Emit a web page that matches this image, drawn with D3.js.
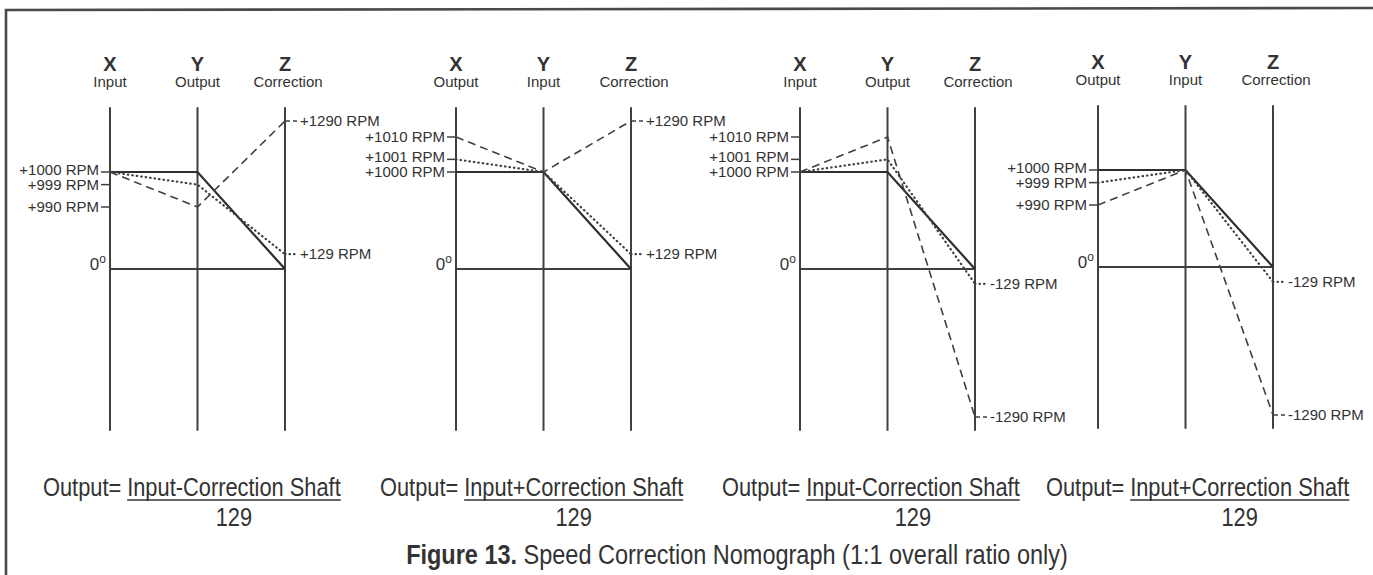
<!DOCTYPE html>
<html><head><meta charset="utf-8">
<script src="https://cdn.jsdelivr.net/npm/d3@7"></script>
<style>body{margin:0;background:#fff} svg{display:block}</style>
</head><body><svg id="c" width="1373" height="575"></svg>
<script>
// ---------- data ----------
const axisLetters = ["X", "Y", "Z"];
const axisRoles = [
  ["Input", "Output", "Correction"],
  ["Output", "Input", "Correction"],
  ["Input", "Output", "Correction"],
  ["Output", "Input", "Correction"]
];
// speeds on [X, Y, Z] for each line of each panel (RPM)
const solidSpeeds  = [[1000, 1000, 0], [1000, 1000, 0], [1000, 1000, 0], [1000, 1000, 0]];
const dashedSpeeds = [[1000, 990, 1290], [1010, 1000, 1290], [1000, 1010, -1290], [990, 1000, -1290]];
const dottedSpeeds = [[1000, 999, 129], [1001, 1000, 129], [1000, 1001, -129], [999, 1000, -129]];
// labelled ticks
const xTickSpeeds = [[1000, 999, 990], [1010, 1001, 1000], [1010, 1001, 1000], [1000, 999, 990]];
const zTickSpeeds = [[1290, 129], [1290, 129], [-129, -1290], [-129, -1290]];
const formulaNumerators = ["Input-Correction Shaft", "Input+Correction Shaft", "Input-Correction Shaft", "Input+Correction Shaft"];
const formulaLead = "Output=";
const formulaDenominator = "129";
const captionBold = "Figure 13.";
const captionRest = " Speed Correction Nomograph (1:1 overall ratio only)";

// ---------- layout ----------
const ink = "#333";
const lineInk = "#404040";
const font = "Liberation Sans, Arial, sans-serif";
const panelLeft = [110, 456, 800, 1098];
const panelDy = [0, 0, 0, -2];
const formulaLeft = [43, 380, 722, 1046];
const narrow = 0.84;
const svg = d3.select("#c");

const axisX = d3.scalePoint().domain(axisLetters).range([0, 175]);
const zScale = d3.scaleLinear().domain([-1290, 1290]).range([417, 121]);
const zExtent = [-1410, 1410];
const speedMain = d3.scaleLinear().domain([0, 1000]).range([zScale(0), 172]);
const speedDev = d3.scaleSymlog().constant(0.5).domain([-10, 10]).range([35, -35]);
const ySpeed = v => speedMain(1000) + speedDev(v - 1000);
const fmt = v => (v > 0 ? "+" : "") + v + " RPM";

// frame
svg.append("path").attr("d", "M6,575 L6,10 L1373,8")
  .attr("fill", "none").attr("stroke", "#4a4a4a").attr("stroke-width", 2.6);

const lineGen = d3.line().x(d => d[0]).y(d => d[1]);

panelLeft.forEach((px, i) => {
  const g = svg.append("g").attr("transform", `translate(${px},${panelDy[i]})`);
  const xs = axisLetters.map(a => axisX(a));

  // header
  axisLetters.forEach((a, j) => {
    g.append("text").attr("x", xs[j]).attr("y", 71).attr("text-anchor", "middle")
      .attr("font-family", font).attr("font-weight", "bold")
      .attr("font-size", 20).attr("fill", ink).text(a);
    g.append("text").attr("x", xs[j] + (j === 2 ? 3 : 0)).attr("y", 87).attr("text-anchor", "middle")
      .attr("font-family", font)
      .attr("font-size", 15).attr("fill", ink).text(axisRoles[i][j]);
  });

  // vertical axes
  xs.forEach(x => {
    g.append("line").attr("x1", x).attr("x2", x)
      .attr("y1", zScale(zExtent[1])).attr("y2", zScale(zExtent[0]))
      .attr("stroke", lineInk).attr("stroke-width", 2);
  });
  // zero line
  g.append("line").attr("x1", xs[0]).attr("x2", xs[2])
    .attr("y1", zScale(0)).attr("y2", zScale(0))
    .attr("stroke", lineInk).attr("stroke-width", 2);
  const zero = g.append("text").attr("x", xs[0] - 4).attr("y", zScale(0) + 1)
    .attr("text-anchor", "end").attr("font-family", font)
    .attr("font-size", 17).attr("fill", ink);
  zero.append("tspan").text("0");
  zero.append("tspan").attr("font-size", 12).attr("dy", -7).text("o");

  const pts = s => [[xs[0], ySpeed(s[0])], [xs[1], ySpeed(s[1])], [xs[2], zScale(s[2])]];

  g.append("path").attr("d", lineGen(pts(solidSpeeds[i]))).attr("fill", "none")
    .attr("stroke", "#2e2e2e").attr("stroke-width", 2.2);
  g.append("path").attr("d", lineGen(pts(dashedSpeeds[i]))).attr("fill", "none")
    .attr("stroke", lineInk).attr("stroke-width", 1.6).attr("stroke-dasharray", "8,5");
  g.append("path").attr("d", lineGen(pts(dottedSpeeds[i]))).attr("fill", "none")
    .attr("stroke", lineInk).attr("stroke-width", 2.2).attr("stroke-linecap", "round")
    .attr("stroke-dasharray", "0.5,4");

  // left tick labels with simple collision avoidance
  const items = xTickSpeeds[i].map(v => ({ v, y: ySpeed(v), ty: ySpeed(v) })).sort((a, b) => b.y - a.y);
  for (let k = 1; k < items.length; k++) {
    if (items[k - 1].ty - items[k].ty < 15) items[k].ty = items[k - 1].ty - 15;
  }
  items.forEach(d => {
    g.append("line").attr("x1", xs[0] - 9).attr("x2", xs[0]).attr("y1", d.y).attr("y2", d.y)
      .attr("stroke", lineInk).attr("stroke-width", 1.5);
    g.append("text").attr("x", xs[0] - 11).attr("y", d.ty).attr("dy", "0.35em")
      .attr("text-anchor", "end").attr("font-family", font)
      .attr("font-size", 15).attr("fill", ink).text(fmt(d.v));
  });

  // right tick labels
  zTickSpeeds[i].forEach(v => {
    const y = zScale(v);
    const big = Math.abs(v) > 500;
    g.append("line").attr("x1", xs[2]).attr("x2", xs[2] + 12).attr("y1", y).attr("y2", y)
      .attr("stroke", lineInk).attr("stroke-width", big ? 1.5 : 2.2)
      .attr("stroke-linecap", big ? "butt" : "round")
      .attr("stroke-dasharray", big ? "5,3" : "0.5,4");
    g.append("text").attr("x", xs[2] + 15).attr("y", y).attr("dy", "0.35em")
      .attr("font-family", font)
      .attr("font-size", 15).attr("fill", ink).text(fmt(v));
  });
});

// formulas (condensed type)
formulaLeft.forEach((fx, i) => {
  const g = svg.append("g").attr("transform", `translate(${fx},0) scale(${narrow},1)`);
  const lead = g.append("text").attr("x", 0).attr("y", 496)
    .attr("font-family", font).attr("font-size", 26).attr("fill", ink).text(formulaLead);
  const lw = lead.node().getComputedTextLength();
  const nx = lw + 7;
  const num = g.append("text").attr("x", nx).attr("y", 496)
    .attr("font-family", font).attr("font-size", 26).attr("fill", ink).text(formulaNumerators[i]);
  const nw = num.node().getComputedTextLength();
  g.append("line").attr("x1", nx).attr("x2", nx + nw).attr("y1", 500).attr("y2", 500)
    .attr("stroke", ink).attr("stroke-width", 1.6);
  g.append("text").attr("x", nx + nw / 2).attr("y", 526).attr("text-anchor", "middle")
    .attr("font-family", font).attr("font-size", 26).attr("fill", ink).text(formulaDenominator);
});

// caption (condensed type)
const capG = svg.append("g").attr("transform", `translate(737,0) scale(0.87,1)`);
const cap = capG.append("text").attr("x", 0).attr("y", 564).attr("text-anchor", "middle")
  .attr("font-family", font).attr("font-size", 27).attr("fill", ink);
cap.append("tspan").attr("font-weight", "bold").text(captionBold);
cap.append("tspan").text(captionRest);
</script></body></html>
